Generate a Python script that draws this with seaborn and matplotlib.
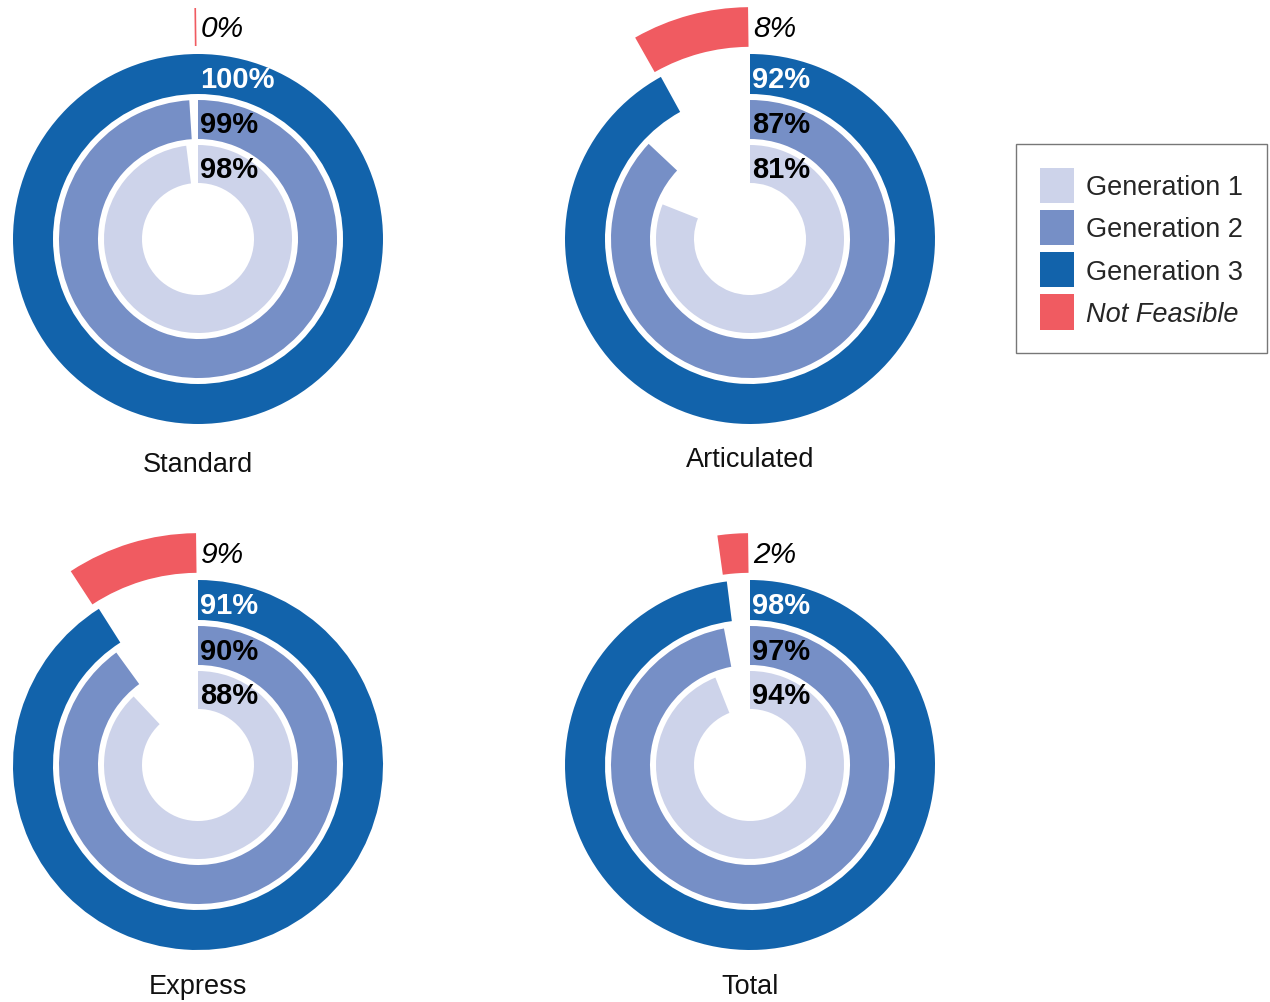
import numpy as np
import matplotlib.pyplot as plt
import seaborn as sns
from matplotlib.patches import Patch

# data
panels = ['Standard', 'Articulated', 'Express', 'Total']
gen1 = [98, 81, 88, 94]
gen2 = [99, 87, 90, 97]
gen3 = [100, 92, 91, 98]
not_feasible = [0, 8, 9, 2]
series_names = ['Generation 1', 'Generation 2', 'Generation 3', 'Not Feasible']
colors = ['#CDD3EA', '#768FC6', '#1263AB', '#F05B61']

sns.set_theme(style='white')
plt.rcParams['font.family'] = ['Liberation Sans', 'DejaVu Sans']

W, H = 1270, 1003
fig = plt.figure(figsize=(W / 100, H / 100), dpi=100)

# layout (pixels)
centers = [(198, 240), (750, 240), (198, 766), (750, 766)]
title_y = [472, 467, 994, 994]
R = 236
rings = [(56, 94), (100, 139), (145, 185)]
red_ring = (193, 231)
label_colors = ['black', 'black', 'white']

for i, name in enumerate(panels):
    cx, cy = centers[i]
    ax = fig.add_axes([(cx - R) / W, (H - cy - R) / H, 2 * R / W, 2 * R / H],
                      projection='polar')
    ax.set_theta_zero_location('N')
    ax.set_theta_direction(-1)
    ax.set_ylim(0, R)
    ax.set_axis_off()

    for vals, (r0, r1), col, lc in zip([gen1, gen2, gen3], rings, colors[:3], label_colors):
        v = vals[i] / 100
        ax.bar(0, r1 - r0, width=2 * np.pi * v, bottom=r0, align='edge',
               color=col, linewidth=0)
        ax.annotate(f'{vals[i]}%', xy=(0, (r0 + r1) / 2), xytext=(2, -13),
                    textcoords='offset pixels', ha='left', va='baseline',
                    fontsize=21, fontweight='bold', color=lc)

    # not feasible wedge, going counter-clockwise from the top
    nf = not_feasible[i] / 100
    off = 0.012
    r0, r1 = red_ring
    ax.bar(-2 * np.pi * nf - off, r1 - r0, width=2 * np.pi * nf, bottom=r0,
           align='edge', color=colors[3], edgecolor=colors[3], linewidth=1.2)
    ax.annotate(f'{not_feasible[i]}%', xy=(0, (r0 + r1) / 2), xytext=(3, -9),
                textcoords='offset pixels', ha='left', va='baseline',
                fontsize=21.5, fontstyle='italic', color='black')

    fig.text(cx / W, 1 - title_y[i] / H, name, ha='center', va='baseline',
             fontsize=19.5, color='#111111')

handles = [Patch(facecolor=c, edgecolor='none') for c in colors]
leg = fig.legend(handles, series_names, loc='upper left',
                 bbox_to_anchor=(1016 / W, 1 - 145 / H), borderaxespad=0,
                 fontsize=19.5, frameon=True, fancybox=False,
                 handlelength=1.27, handleheight=1.62, handletextpad=0.45,
                 labelspacing=0.26, borderpad=0.88)
leg.get_frame().set_edgecolor('#555555')
leg.get_frame().set_linewidth(1.0)
leg.get_texts()[3].set_fontstyle('italic')

fig.savefig('out.png', dpi=100)
